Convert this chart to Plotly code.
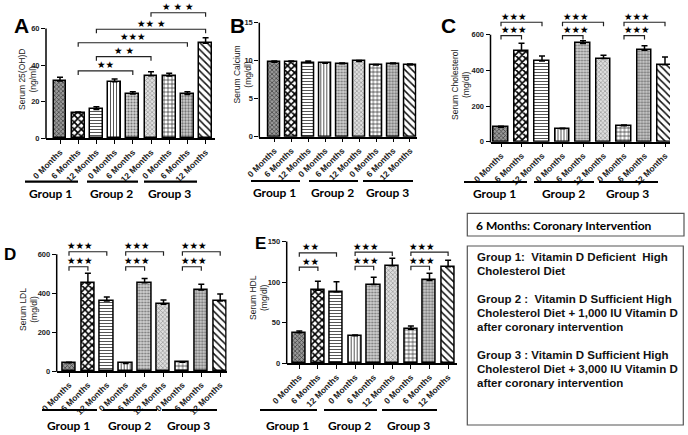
import plotly.graph_objects as go

# ---------------- data ----------------
categories = ["0 Months", "6 Months", "12 Months"] * 3
groups = ["Group 1", "Group 2", "Group 3"]

vitd_mean = [31.3, 14.0, 15.8, 30.9, 24.2, 34.2, 34.0, 24.0, 51.9]
vitd_sem = [2.0, 0.4, 1.5, 1.5, 1.3, 2.2, 1.5, 1.5, 3.0]

calcium_mean = [9.8, 9.85, 9.75, 9.65, 9.6, 9.9, 9.45, 9.6, 9.45]
calcium_sem = [0.15, 0.1, 0.2, 0.05, 0.1, 0.12, 0.05, 0.1, 0.1]

chol_mean = [81, 509, 453, 72, 551, 466, 89, 513, 432]
chol_sem = [5, 43, 28, 4, 15, 19, 5, 25, 43]

ldl_mean = [42, 454, 360, 39, 454, 343, 45, 417, 360]
ldl_sem = [3, 48, 20, 3, 22, 22, 3, 29, 36]

hdl_mean = [37.7, 90, 88, 34, 97, 120, 42, 102, 119]
hdl_sem = [2, 11, 12.5, 1, 9, 9.5, 4, 9, 8]

# significance brackets: (bar from, bar to, bracket height, stars)
vitd_sig = [(1, 4, 36.8, "★★"), (2, 5, 44.6, "★ ★"), (1, 7, 52.2, "★★★"),
            (2, 8, 59.6, "★★ ★"), (5, 8, 68.6, "★ ★ ★")]
calcium_sig = []
chol_sig = [(0, 1, 595, "★★★"), (0, 2, 670, "★★★"), (3, 4, 595, "★★★"), (3, 5, 670, "★★★"),
            (6, 7, 595, "★★★"), (6, 8, 670, "★★★")]
ldl_sig = [(0, 1, 536, "★★★"), (0, 2, 613, "★★★"), (3, 4, 536, "★★★"), (3, 5, 613, "★★★"),
           (6, 7, 536, "★★★"), (6, 8, 613, "★★★")]
hdl_sig = [(0, 1, 118.5, "★★"), (0, 2, 136, "★★"), (3, 4, 119.5, "★★★"), (3, 5, 137, "★★★"),
           (6, 7, 119.5, "★★★"), (6, 8, 137, "★★★")]

legend_title = "6 Months: Coronary Intervention"
legend_lines = [
    "Group 1:\u00a0 Vitamin D Deficient\u00a0 High",
    "Cholesterol Diet",
    "Group 2 :\u00a0 Vitamin D Sufficient High",
    "Cholesterol Diet + 1,000 IU Vitamin D",
    "after coronary intervention",
    "Group 3 : Vitamin D Sufficient High",
    "Cholesterol Diet + 3,000 IU Vitamin D",
    "after coronary intervention",
]

# ---------------- layout (pixels) ----------------
W, H = 688, 435


def px(x):
    return x / W


def py(y):
    return 1 - y / H


panels = [
    dict(letter="A", mean=vitd_mean, sem=vitd_sem, sig=vitd_sig, title="Serum 25(OH)D<br>(ng/ml)",
         left=46, right=215, bar0=60, sp=18.2, zero=138.3, scale=1.83, top=2, ticks=[0, 20, 40, 60],
         letter_xy=(21, 25.5), letter_size=21, title_xy=(27, 80), star_off=None,
         glines=[(25, 78), (87, 138), (144, 197)], gy=181.7, gly=193.3),
    dict(letter="B", mean=calcium_mean, sem=calcium_sem, sig=calcium_sig, title="Serum Calcium<br>(mg/dl)",
         left=259.3, right=416.7, bar0=274.3, sp=16.96, zero=136.7, scale=7.6, top=2, ticks=[0, 5, 10, 15],
         letter_xy=(237, 25.5), letter_size=21, title_xy=(241.5, 75), star_off=None,
         glines=[(251, 300), (309, 358), (363, 413)], gy=181, gly=192.7),
    dict(letter="C", mean=chol_mean, sem=chol_sem, sig=chol_sig, title="Serum Cholesterol<br>(mg/dl)",
         left=490.5, right=670, bar0=501, sp=20.5, zero=141.7, scale=0.1783, top=2, ticks=[0, 200, 400, 600],
         letter_xy=(448, 25.5), letter_size=21, title_xy=(461, 85), star_off=0.65,
         glines=[(464, 527), (534, 594), (599, 658)], gy=182, gly=193.3),
    dict(letter="D", mean=ldl_mean, sem=ldl_sem, sig=ldl_sig, title="Serum LDL<br>(mg/dl)",
         left=56.7, right=226.7, bar0=69, sp=18.9, zero=371, scale=0.1945, top=232, ticks=[0, 200, 400, 600],
         letter_xy=(10, 254), letter_size=17, title_xy=(28, 310), star_off=0.6,
         glines=[(42, 97), (103, 157), (162, 217)], gy=410, gly=425.5),
    dict(letter="E", mean=hdl_mean, sem=hdl_sem, sig=hdl_sig, title="Serum HDL<br>(mg/dl)",
         left=286.7, right=457, bar0=299.3, sp=18.6, zero=363.3, scale=0.812, top=228, ticks=[0, 50, 100, 150],
         letter_xy=(260, 243), letter_size=17, title_xy=(258, 298), star_off=0.6,
         glines=[(260, 317), (324, 377), (382, 437)], gy=410, gly=425.5),
]

# bar fill styles (pattern per bar position)
pat_shape = ["x", "x", "-", "|", ".", "x", "+", ".", "\\"]
pat_fg = ["#3a3a3a", "#000000", "#555555", "#555555", "#777777", "#8a8a8a", "#222222", "#777777", "#111111"]
pat_bg = ["#9a9a9a", "#ffffff", "#ffffff", "#ffffff", "#d2d2d2", "#dedede", "#ffffff", "#cfcfcf", "#ffffff"]
pat_size = [3, 5, 3, 3, 3, 3, 4, 3, 5]
pat_sol = [0.4, 0.55, 0.35, 0.35, 0.4, 0.35, 0.3, 0.45, 0.3]

FONT = "Liberation Sans"
GFONT = "Lato"

fig = go.Figure()
shapes = []
annotations = []
layout_axes = {}

for k, p in enumerate(panels):
    n = "" if k == 0 else str(k + 1)
    xa, ya = "x" + n, "y" + n
    xr = [(p["left"] - p["bar0"]) / p["sp"], (p["right"] - p["bar0"]) / p["sp"]]
    ytop = (p["zero"] - p["top"]) / p["scale"]
    fig.add_trace(go.Bar(
        x=list(range(len(categories))), y=p["mean"], width=0.7,
        marker=dict(color="white", line=dict(color="black", width=1.5),
                    pattern=dict(shape=pat_shape, fgcolor=pat_fg, bgcolor=pat_bg,
                                 size=pat_size, solidity=pat_sol, fillmode="replace")),
        error_y=dict(type="data", symmetric=False, array=p["sem"], arrayminus=[0] * len(p["sem"]),
                     color="black", thickness=1.5, width=3),
        xaxis=xa, yaxis=ya, showlegend=False, hoverinfo="skip"))
    layout_axes["xaxis" + n] = dict(
        domain=[px(p["left"]), px(p["right"])], range=xr, anchor=ya, automargin=False,
        showline=True, linecolor="black", linewidth=1.5, ticks="outside", ticklen=4,
        tickwidth=1, tickcolor="black", tickvals=list(range(len(categories))), ticktext=categories,
        tickangle=-45, tickfont=dict(family=FONT, size=8.5, color="#222", weight="bold"),
        showgrid=False, zeroline=False, fixedrange=True)
    layout_axes["yaxis" + n] = dict(
        domain=[py(p["zero"]), py(p["top"])], range=[0, ytop], anchor=xa, automargin=False,
        showline=False, ticks="outside", ticklen=4, tickwidth=1, tickcolor="black",
        tickvals=p["ticks"], tickfont=dict(family=FONT, size=7.5, color="#222", weight="bold"),
        showgrid=False, zeroline=False, fixedrange=True)
    # y axis line from 0 to the top tick
    top_tick_px = p["zero"] - p["ticks"][-1] * p["scale"]
    shapes.append(dict(type="line", xref="paper", yref="paper", x0=px(p["left"]), x1=px(p["left"]),
                       y0=py(p["zero"] + 0.75), y1=py(top_tick_px), line=dict(color="black", width=1.5)))
    # significance brackets
    t = 4 / p["scale"]
    for (i0, i1, yb, lab) in p["sig"]:
        shapes.append(dict(type="path", xref=xa, yref=ya,
                           path=f"M {i0},{yb - t} L {i0},{yb} L {i1},{yb} L {i1},{yb - t}",
                           line=dict(color="#222", width=1.2)))
        sx = (i0 + i1) / 2 if p["star_off"] is None else i0 + p["star_off"]
        annotations.append(dict(x=sx, y=yb, xref=xa, yref=ya, text=lab, showarrow=False,
                                xanchor="center", yanchor="bottom", yshift=-1.5,
                                font=dict(family="DejaVu Sans", size=9.5, color="black")))
    # panel letter
    annotations.append(dict(x=px(p["letter_xy"][0]), y=py(p["letter_xy"][1]), xref="paper", yref="paper",
                            text="<b>" + p["letter"] + "</b>", showarrow=False, xanchor="center",
                            yanchor="middle", font=dict(family=FONT, size=p["letter_size"], color="black")))
    # axis title
    annotations.append(dict(x=px(p["title_xy"][0]), y=py(p["title_xy"][1]), xref="paper", yref="paper",
                            text=p["title"], textangle=-90, showarrow=False, xanchor="center",
                            yanchor="middle", font=dict(family=FONT, size=8.5, color="#222")))
    # group lines and labels
    for (g0, g1), gname in zip(p["glines"], groups):
        shapes.append(dict(type="line", xref="paper", yref="paper", x0=px(g0), x1=px(g1),
                           y0=py(p["gy"]), y1=py(p["gy"]), line=dict(color="black", width=2.2)))
        annotations.append(dict(x=px((g0 + g1) / 2 - 1), y=py(p["gly"]), xref="paper", yref="paper",
                                text="<b>" + gname + "</b>", showarrow=False, xanchor="center",
                                yanchor="middle", font=dict(family=GFONT, size=12, color="black")))

# text boxes
shapes.append(dict(type="rect", xref="paper", yref="paper", x0=px(467.3), x1=px(684), y0=py(236),
                   y1=py(213.3), line=dict(color="#555", width=1.2)))
shapes.append(dict(type="rect", xref="paper", yref="paper", x0=px(467.3), x1=px(683.3), y0=py(425),
                   y1=py(246), line=dict(color="#555", width=1.2)))
annotations.append(dict(x=px(473.5), y=py(225), xref="paper", yref="paper", text="<b>" + legend_title + "</b>",
                        showarrow=False, xanchor="left", yanchor="middle",
                        font=dict(family=GFONT, size=12, color="black")))
line_y = [256.7, 271, 299.3, 313.3, 326.7, 355, 369, 382.5]
for txt, yy in zip(legend_lines, line_y):
    annotations.append(dict(x=px(474.5), y=py(yy), xref="paper", yref="paper", text="<b>" + txt + "</b>",
                            showarrow=False, xanchor="left", yanchor="middle",
                            font=dict(family=FONT, size=11.5, color="#111")))

fig.update_layout(template="none", width=W, height=H, margin=dict(l=0, r=0, t=0, b=0, autoexpand=False),
                  paper_bgcolor="white", plot_bgcolor="rgba(0,0,0,0)", showlegend=False,
                  shapes=shapes, annotations=annotations, bargap=0, **layout_axes)

fig.write_html("out.html", config={"displayModeBar": False},
               post_script="document.body.style.margin='0px';document.body.style.overflow='hidden';")
